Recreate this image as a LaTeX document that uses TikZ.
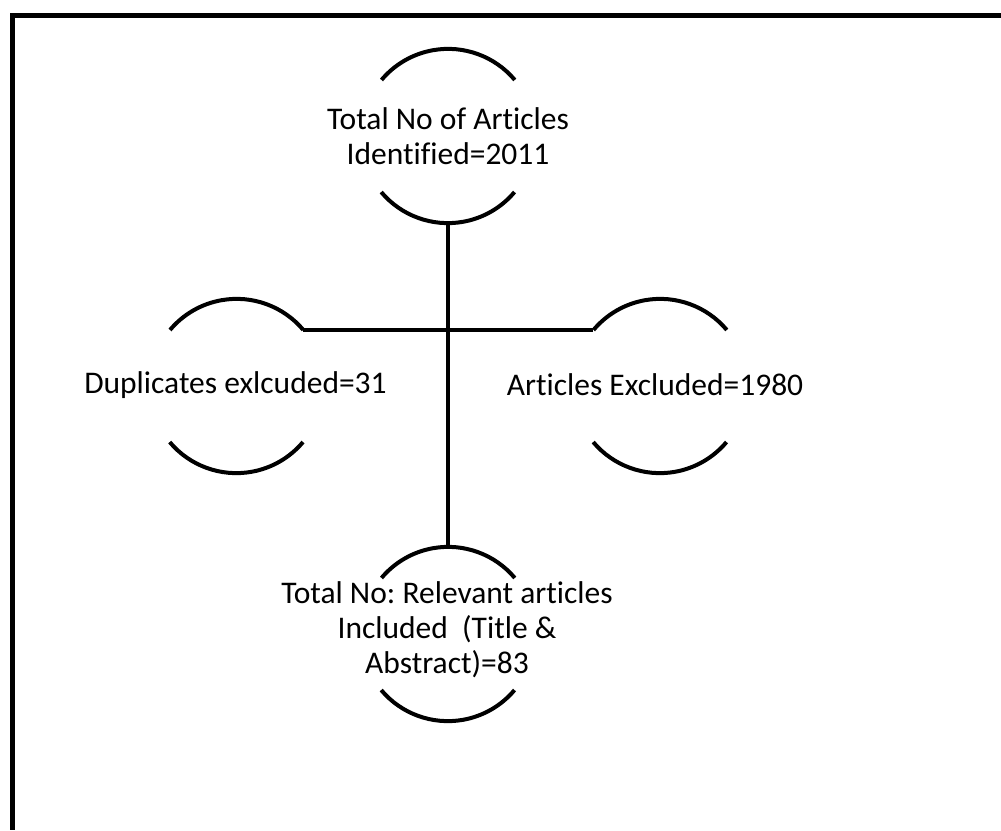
\documentclass[tikz,border=0pt]{standalone}
\usepackage{fontspec}
\setmainfont[Ligatures={NoCommon}]{Carlito}
\frenchspacing
\begin{document}
\begin{tikzpicture}[x=1pt,y=-1pt,
  ring/.style={circle,draw=none,minimum size=174pt,inner sep=0pt},
  arcline/.style={line width=4pt,black},
  conn/.style={line width=4.5pt,black},
  frameline/.style={line width=5pt,black,line join=miter},
  txt/.style={align=center,font=\fontsize{31.5}{35}\selectfont,inner sep=0pt}]
\useasboundingbox (0,0) rectangle (1001,830);
\fill[white] (0,0) rectangle (1001,830);
\coordinate (frTR) at (1001,15);
\coordinate (frTL) at (12,15);
\coordinate (frBL) at (12,830);
\draw[frameline] (frTR) -- (frTL) -- (frBL);
% circles
\node[ring] (top) at (448,136) {};
\node[ring] (lft) at (236.5,386) {};
\node[ring] (rgt) at (660,386) {};
\node[ring] (bot) at (448,634) {};
\foreach \n in {top,lft,rgt,bot}{
  \draw[arcline] (\n.40) arc[start angle=40,end angle=140,radius=87pt];
  \draw[arcline] (\n.220) arc[start angle=220,end angle=320,radius=87pt];
}
% texts
\node[txt] (ttop) at (448,136) {Total No of Articles\\Identified=2011};
\node[txt] (tlft) at (235.5,385) {Duplicates exlcuded=31};
\node[txt] (trgt) at (655,385) {Articles Excluded=1980};
\node[txt] (tbot) at (447,630) {Total No: Relevant articles\\Included\ \ (Title \&\\Abstract)=83};
% connectors
\draw[conn] (top.south) -- (bot.north);
\draw[conn] (lft.40) -- (rgt.140);
\end{tikzpicture}
\end{document}
